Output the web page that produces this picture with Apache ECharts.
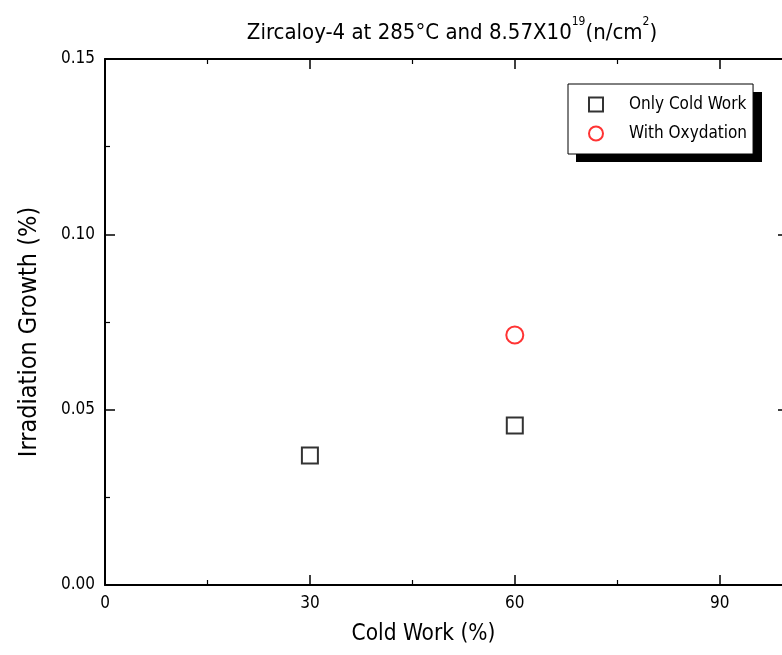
<!DOCTYPE html>
<html>
<head>
<meta charset="utf-8">
<script src="https://cdn.jsdelivr.net/npm/echarts@6/dist/echarts.min.js"></script>
<style>html,body{margin:0;padding:0;background:#fff;}#c{width:782px;height:655px;}</style>
</head>
<body>
<div id="c"></div>
<script>
const seriesNames = ['Only Cold Work', 'With Oxydation'];
const coldWorkX = [30, 60];
const onlyColdWorkY = [0.0369, 0.0455];
const oxydationX = [60];
const oxydationY = [0.0713];
const xTicks = [0, 30, 60, 90];
const yTicks = [0.00, 0.05, 0.10, 0.15];

const FONT = '"DejaVu Sans Condensed", "Liberation Sans", sans-serif';
const chart = echarts.init(document.getElementById('c'), null, {renderer: 'canvas'});

function pairs(xs, ys) { return xs.map((x, i) => [x, ys[i]]); }

const axisLine = () => ({show: true, onZero: false, lineStyle: {color: '#000', width: 2}});
const axisTickIn = () => ({show: true, inside: true, length: 10, lineStyle: {color: '#000', width: 1.5}});
const minorIn = () => ({show: true, splitNumber: 2, length: 5, lineStyle: {color: '#000', width: 1.2}});

chart.setOption({
  backgroundColor: '#fff',
  animation: false,
  title: {
    text: '{t|Zircaloy-4 at 285°C and 8.57X10}{s|19}{t|(n/cm}{s|2}{t|)}',
    left: 447, top: 11, textAlign: 'center',
    textStyle: {
      fontWeight: 'normal',
      rich: {
        t: {fontFamily: FONT, fontSize: 22, fontWeight: 'normal', color: '#000', verticalAlign: 'bottom', lineHeight: 28},
        s: {fontFamily: FONT, fontSize: 12, fontWeight: 'normal', color: '#000', verticalAlign: 'top', lineHeight: 28, padding: [0, 0, 12, 0]}
      }
    }
  },
  grid: {left: 105, top: 59, width: 683, height: 526, containLabel: false, outerBoundsMode: 'none'},
  graphic: [{
    type: 'rect', z: 0, zlevel: 0,
    shape: {x: 576, y: 92, width: 186, height: 70},
    style: {fill: '#000'}
  }],
  legend: {
    orient: 'vertical',
    left: 568, top: 84, z: 5,
    backgroundColor: '#fff',
    borderColor: '#000', borderWidth: 1,
    padding: [12, 6, 12, 20],
    itemWidth: 14, itemHeight: 14, itemGap: 12,
    textStyle: {fontFamily: FONT, fontSize: 17, color: '#000', padding: [0, 0, 0, 21]},
    data: seriesNames
  },
  xAxis: [{
    type: 'value', min: 0, max: 100, interval: 30,
    name: 'Cold Work (%)', nameLocation: 'middle', nameGap: 38,
    nameTextStyle: {fontFamily: FONT, fontSize: 22.5, color: '#000', padding: [0, 46, 0, 0]},
    axisLine: axisLine(), axisTick: axisTickIn(), minorTick: minorIn(),
    axisLabel: {fontFamily: FONT, fontSize: 17, color: '#000', margin: 10, showMaxLabel: false,
      formatter: v => xTicks.includes(v) ? String(v) : ''},
    splitLine: {show: false}
  }, {
    type: 'value', min: 0, max: 100, interval: 30, position: 'top',
    axisLine: axisLine(), axisTick: axisTickIn(), minorTick: minorIn(),
    axisLabel: {show: false}, splitLine: {show: false}
  }],
  yAxis: [{
    type: 'value', min: 0, max: 0.15, interval: 0.05,
    name: 'Irradiation Growth (%)', nameLocation: 'middle', nameGap: 63,
    nameTextStyle: {fontFamily: FONT, fontSize: 25, color: '#000', padding: [0, 20, 0, 0]},
    axisLine: axisLine(), axisTick: axisTickIn(), minorTick: minorIn(),
    axisLabel: {fontFamily: FONT, fontSize: 17, color: '#000', margin: 10,
      formatter: v => yTicks.some(t => Math.abs(t - v) < 1e-9) ? v.toFixed(2) : ''},
    splitLine: {show: false}
  }, {
    type: 'value', min: 0, max: 0.15, interval: 0.05, position: 'right',
    axisLine: axisLine(), axisTick: axisTickIn(), minorTick: minorIn(),
    axisLabel: {show: false}, splitLine: {show: false}
  }],
  series: [{
    name: seriesNames[0], type: 'scatter', symbol: 'rect', symbolSize: 16,
    itemStyle: {color: '#fff', borderColor: '#000', borderWidth: 2},
    data: pairs(coldWorkX, onlyColdWorkY)
  }, {
    name: seriesNames[1], type: 'scatter', symbol: 'circle', symbolSize: 17,
    itemStyle: {color: '#fff', borderColor: '#ff0000', borderWidth: 2},
    data: pairs(oxydationX, oxydationY)
  }]
});
</script>
</body>
</html>
